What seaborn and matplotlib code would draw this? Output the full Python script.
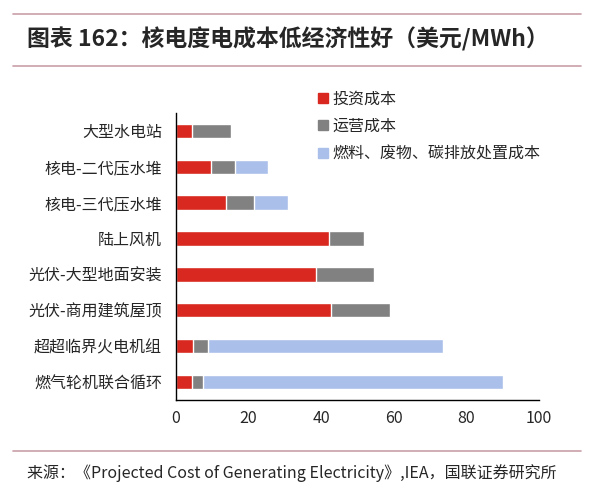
import seaborn as sns
import matplotlib.pyplot as plt
import matplotlib.patches as mpatches
import pandas as pd
import numpy as np

sns.set_style("white")
plt.rcParams['font.family'] = ['Noto Sans CJK SC', 'DejaVu Sans']

# Data (USD/MWh)
categories = ["大型水电站", "核电-二代压水堆", "核电-三代压水堆", "陆上风机",
              "光伏-大型地面安装", "光伏-商用建筑屋顶", "超超临界火电机组", "燃气轮机联合循环"]
invest = [4.6, 9.7, 13.9, 42.1, 38.5, 42.8, 4.8, 4.5]
operate = [10.6, 6.6, 7.6, 9.8, 16.2, 16.1, 4.1, 3.0]
fuel = [0, 9.2, 9.4, 0, 0, 0, 64.6, 82.5]
series_names = ["投资成本", "运营成本", "燃料、废物、碳排放处置成本"]
colors = ["#d8281f", "#818181", "#aabfea"]

df = pd.DataFrame({"cat": categories, "invest": invest, "operate": operate, "fuel": fuel})
df["s1"] = df["invest"]
df["s2"] = df["invest"] + df["operate"]
df["s3"] = df["s2"] + df["fuel"]

fig = plt.figure(figsize=(6, 4.95), dpi=100)
ax = fig.add_axes([0.293, 0.192, 0.605, 0.580])

# stacked bars: draw cumulative totals back to front
for col, c in zip(["s3", "s2", "s1"], colors[::-1]):
    sns.barplot(data=df, y="cat", x=col, orient="h", color=c, width=0.4,
                saturation=1, ax=ax, order=categories)

ax.set_xlim(0, 100)
ax.set_ylim(len(categories) - 0.5, -0.5)
ax.set_xticks(np.arange(0, 101, 20))
ax.set_xlabel("")
ax.set_ylabel("")
for s in ["top", "right"]:
    ax.spines[s].set_visible(False)
for s in ["left", "bottom"]:
    ax.spines[s].set_color("black")
    ax.spines[s].set_linewidth(1.0)

ax.tick_params(axis="y", which="major", length=0, pad=10, labelsize=11.5)
ax.set_yticks(np.arange(-0.5, len(categories)), minor=True)
ax.tick_params(axis="y", which="minor", length=4, width=1, color="black", direction="out")
ax.tick_params(axis="x", length=3, width=1, color="black", labelsize=11.5, pad=4)

handles = [mpatches.Patch(color=c, label=n) for c, n in zip(colors, series_names)]
fig.legend(handles=handles, loc="upper left", bbox_to_anchor=(0.52, 0.83),
           frameon=False, fontsize=11.5, handlelength=0.6, handleheight=0.6,
           handletextpad=0.3, labelspacing=0.65, borderaxespad=0)

# title and source with rule lines
line_color = "#c9a0a8"
fig.add_artist(plt.Line2D([0.022, 0.968], [1 - 14 / 495, 1 - 14 / 495], color=line_color, lw=1.2))
fig.add_artist(plt.Line2D([0.022, 0.968], [1 - 66 / 495, 1 - 66 / 495], color=line_color, lw=1.2))
fig.add_artist(plt.Line2D([0.022, 0.968], [1 - 451 / 495, 1 - 451 / 495], color=line_color, lw=1.2))
fig.text(0.045, 1 - 39 / 495, "图表 162：核电度电成本低经济性好（美元/MWh）",
         fontsize=16.5, fontweight="bold", style="italic", va="center", ha="left")
fig.text(0.045, 1 - 473 / 495,
         "来源：《Projected Cost of Generating Electricity》,IEA，国联证券研究所",
         fontsize=11.5, va="center", ha="left")

plt.savefig("out.png", dpi=100)
plt.close()
